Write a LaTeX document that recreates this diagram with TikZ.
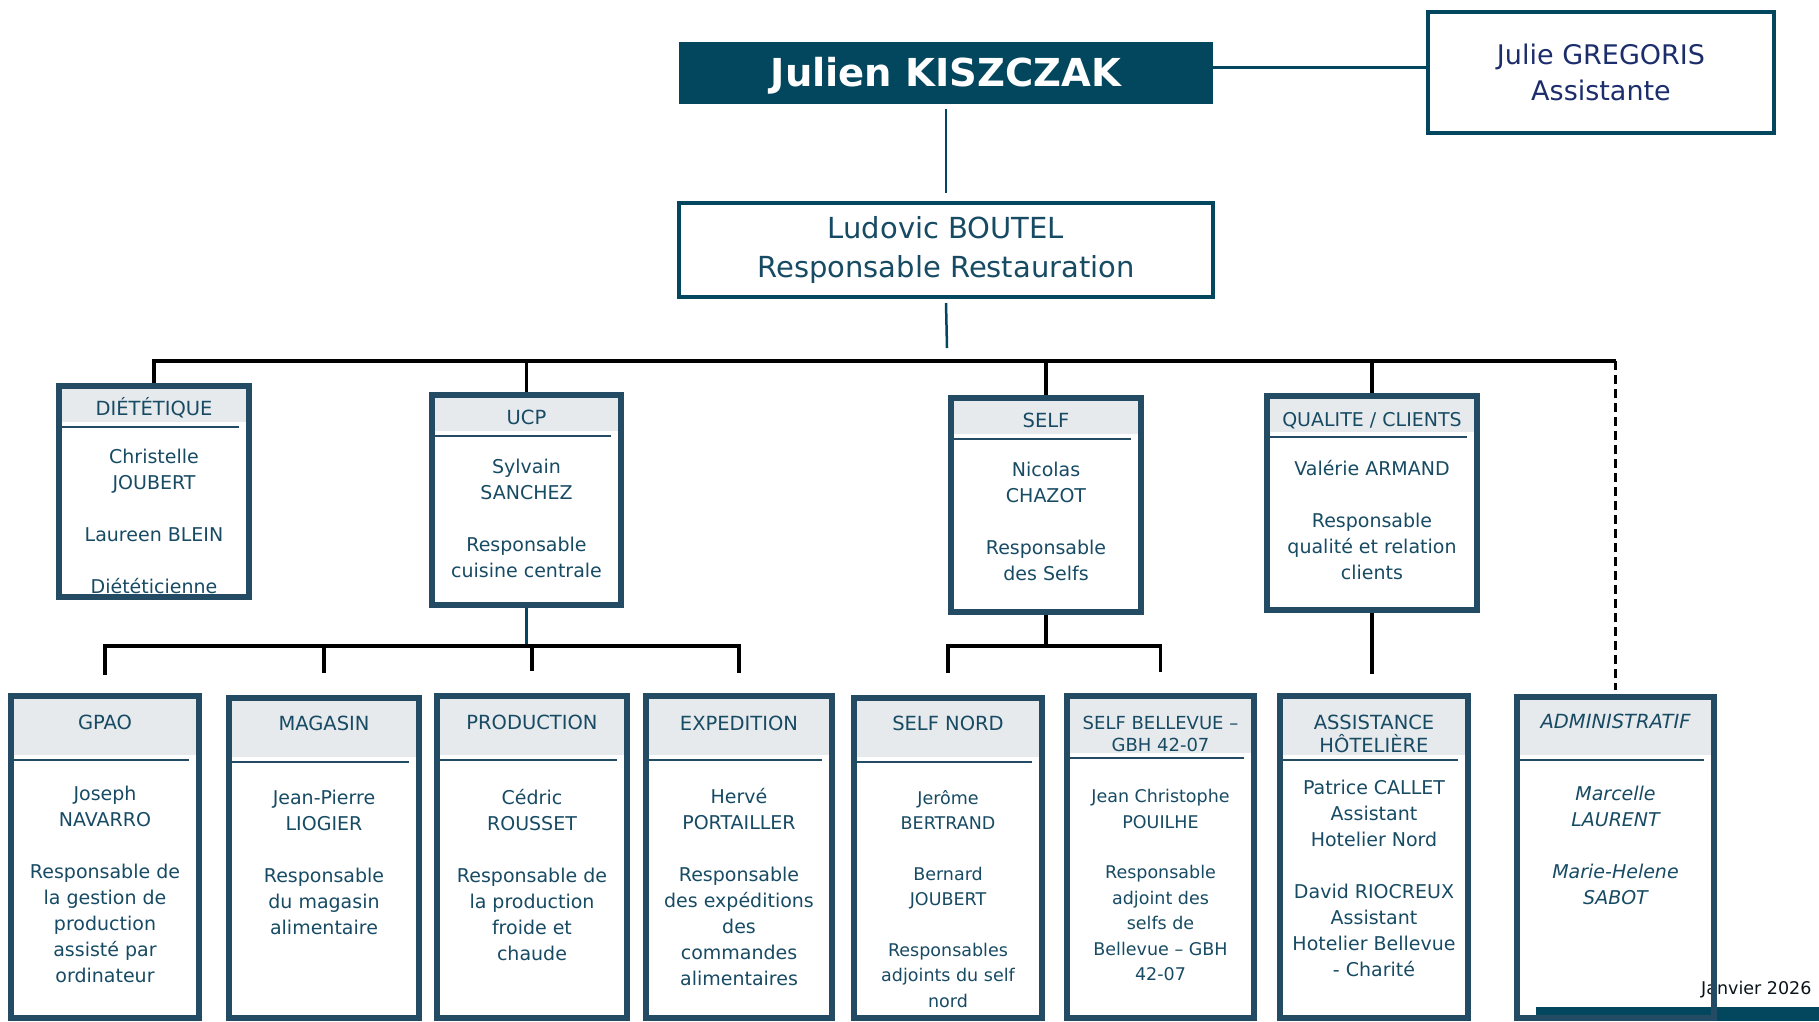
\documentclass[tikz,border=0pt]{standalone}
\usepackage{fontspec}
\setmainfont{DejaVu Sans}
\usetikzlibrary{positioning}

\definecolor{petrol}{HTML}{02475E}
\definecolor{slate}{HTML}{244B64}
\definecolor{inktxt}{HTML}{174A63}
\definecolor{navy}{HTML}{1C2D6C}
\definecolor{headgrey}{HTML}{E7EAED}

\begin{document}
\begin{tikzpicture}[x=1pt, y=-1pt, font=\fontsize{19}{26}\selectfont,
  every node/.style={text=inktxt, align=center, inner sep=0pt},
  unit/.style={draw=slate, line width=6pt, anchor=north west,
    path picture={
      \fill[headgrey] ([shift={(3pt,-3pt)}]path picture bounding box.north west)
        rectangle ([shift={(-3pt,-#1pt+5pt)}]path picture bounding box.north east);
      \draw[slate, line width=2.5pt] ([shift={(3pt,-#1pt)}]path picture bounding box.north west)
        -- ([shift={(-10pt,-#1pt)}]path picture bounding box.north east);
    }},
  head/.style={anchor=base, font=\fontsize{19.5}{23}\selectfont},
  body/.style={anchor=north},
  small/.style={font=\fontsize{17.5}{25.5}\selectfont},
  link/.style={draw=petrol, line width=2.5pt},
  bus/.style={draw=black, line width=3.5pt, line join=miter}]

\useasboundingbox (0,0) rectangle (1819,1021);

% Top
\node[fill=petrol, minimum width=534pt, minimum height=62pt, text=white,
  font=\fontsize{38.5}{40}\bfseries, text height=27pt, text depth=0pt] (julien) at (946,73) {Julien KISZCZAK};
\node[draw=petrol, line width=4pt, minimum width=346pt, minimum height=121pt, text=navy,
  font=\fontsize{27}{36}\selectfont] (julie) at (1601,72.5) {Julie GREGORIS\\Assistante};
\node[draw=petrol, line width=4pt, minimum width=534pt, minimum height=94pt,
  font=\fontsize{29}{39}\selectfont] (ludovic) at (946,250) {Ludovic BOUTEL\\Responsable Restauration};

% Footer
\fill[petrol] (1536,1007) rectangle (1819,1021);
\node[anchor=west, text=black!75!slate, font=\fontsize{17.5}{20}\selectfont] (date) at (1701,990) {Janvier 2026};

% Services
\node[unit=41, minimum width=190pt, minimum height=211pt] (dietetique) at (56,383) {};
\node[unit=41, minimum width=189pt, minimum height=210pt] (ucp) at (429,392) {};
\node[unit=41, minimum width=190pt, minimum height=214pt] (self) at (948,395) {};
\node[unit=41, minimum width=210pt, minimum height=214pt] (qualite) at (1264,393) {};

% Teams
\node[unit=64, minimum width=188pt, minimum height=322pt] (gpao) at (8,693) {};
\node[unit=64, minimum width=190pt, minimum height=320pt] (magasin) at (226,695) {};
\node[unit=64, minimum width=190pt, minimum height=322pt] (production) at (434,693) {};
\node[unit=64, minimum width=186pt, minimum height=322pt] (expedition) at (643,693) {};
\node[unit=64, minimum width=188pt, minimum height=320pt] (selfnord) at (851,695) {};
\node[unit=62, minimum width=187pt, minimum height=322pt] (bellevue) at (1064,693) {};
\node[unit=64, minimum width=188pt, minimum height=322pt] (assistance) at (1277,693) {};
\node[unit=63, minimum width=197pt, minimum height=321pt] (admin) at (1514,694) {};

% Labels
\node[head] (dietetique-h) at ([yshift=-32pt]dietetique.north) {DIÉTÉTIQUE};
\node[head] (ucp-h) at ([yshift=-32pt]ucp.north) {UCP};
\node[head] (self-h) at ([yshift=-32pt]self.north) {SELF};
\node[head, font=\fontsize{19}{23}\selectfont] (qualite-h) at ([yshift=-33pt]qualite.north) {QUALITE / CLIENTS};
\node[head] (gpao-h) at ([yshift=-36pt]gpao.north) {GPAO};
\node[head] (magasin-h) at ([yshift=-35pt]magasin.north) {MAGASIN};
\node[head] (production-h) at ([yshift=-36pt]production.north) {PRODUCTION};
\node[head] (expedition-h) at ([yshift=-37pt]expedition.north) {EXPEDITION};
\node[head] (selfnord-h) at ([yshift=-35pt]selfnord.north) {SELF NORD};
\node[head, anchor=north, font=\fontsize{18}{22}\selectfont] (bellevue-h) at ([yshift=-23pt]bellevue.north) {SELF BELLEVUE –\\GBH 42-07};
\node[head, anchor=north] (assistance-h) at ([yshift=-22pt]assistance.north) {ASSISTANCE\\HÔTELIÈRE};
\node[head, font=\fontsize{19.5}{23}\itshape] (admin-h) at ([yshift=-34pt]admin.north) {ADMINISTRATIF};

\node[body, below=66pt of dietetique.north] (dietetique-b) {Christelle\\JOUBERT\\[26pt]Laureen BLEIN\\[26pt]Diététicienne};
\node[body, below=67pt of ucp.north] (ucp-b) {Sylvain\\SANCHEZ\\[26pt]Responsable\\cuisine centrale};
\node[body, below=67pt of self.north] (self-b) {Nicolas\\CHAZOT\\[26pt]Responsable\\des Selfs};
\node[body, below=67pt of qualite.north] (qualite-b) {Valérie ARMAND\\[26pt]Responsable\\qualité et relation\\clients};
\node[body, below=93pt of gpao.north] (gpao-b) {Joseph\\NAVARRO\\[26pt]Responsable de\\la gestion de\\production\\assisté par\\ordinateur};
\node[body, below=95pt of magasin.north] (magasin-b) {Jean-Pierre\\LIOGIER\\[26pt]Responsable\\du magasin\\alimentaire};
\node[body, below=96pt of production.north] (production-b) {Cédric\\ROUSSET\\[26pt]Responsable de\\la production\\froide et\\chaude};
\node[body, below=95pt of expedition.north] (expedition-b) {Hervé\\PORTAILLER\\[26pt]Responsable\\des expéditions\\des\\commandes\\alimentaires};
\node[body, small, below=95pt of selfnord.north] (selfnord-b) {Jerôme\\BERTRAND\\[25pt]Bernard\\JOUBERT\\[25pt]Responsables\\adjoints du self\\nord};
\node[body, small, below=96pt of bellevue.north] (bellevue-b) {Jean Christophe\\POUILHE\\[25pt]Responsable\\adjoint des\\selfs de\\Bellevue – GBH\\42-07};
\node[body, below=87pt of assistance.north] (assistance-b) {Patrice CALLET\\Assistant\\Hotelier Nord\\[26pt]David RIOCREUX\\Assistant\\Hotelier Bellevue\\- Charité};
\node[body, below=92pt of admin.north, font=\fontsize{19}{26}\itshape] (admin-b) {Marcelle\\LAURENT\\[26pt]Marie-Helene\\SABOT};

% Edges
\coordinate (jl) at ([yshift=6pt]julien.east);
\coordinate (bus) at (947,361);
\coordinate (subbus) at (0,646);

\draw[link, line width=3pt] (jl) -- (jl -| julie.west);
\draw[link] ([yshift=-5pt]julien.south) -- ([yshift=8pt]ludovic.north);
\draw[link] ([yshift=-4pt]ludovic.south) -- ([yshift=13pt]bus);

\draw[bus] (dietetique.north) |- (bus -| admin.north);
\foreach \n in {ucp, self, qualite}
  \draw[bus] (\n.north) -- (\n.north |- bus);
\draw[bus, dash pattern=on 9pt off 5pt] (bus -| admin.north) -- ([yshift=4pt]admin.north);

\draw[link] (ucp.south) -- (ucp.south |- subbus);
\draw[bus] ([yshift=18pt]gpao.north) |- (ucp.south |- subbus) -| ([yshift=20pt]expedition.north);
\draw[bus] (magasin.north |- subbus) -- ([yshift=22pt]magasin.north);
\draw[bus] (production.north |- subbus) -- ([yshift=22pt]production.north);

\draw[bus] (self.south) -- (self.south |- subbus);
\draw[bus] ([yshift=22pt]selfnord.north) |- (self.south |- subbus) -| ([yshift=21pt]bellevue.north);

\draw[bus] (qualite.south) -- ([yshift=19pt]qualite.south |- assistance.north);

\end{tikzpicture}
\end{document}
